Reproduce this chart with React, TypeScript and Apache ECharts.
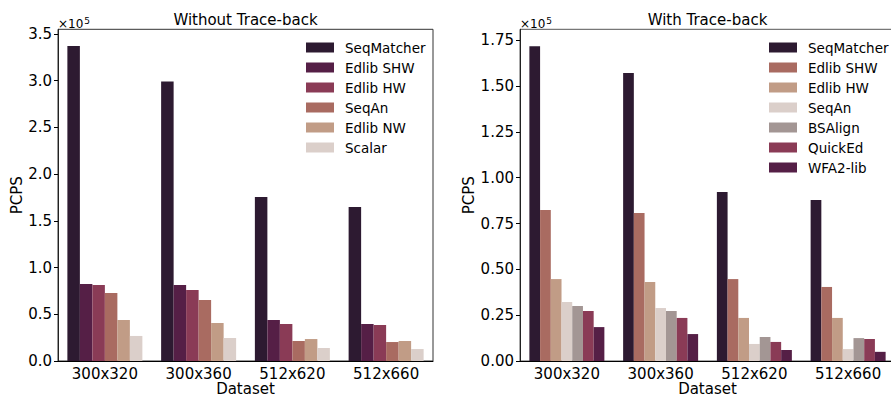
import React, { useEffect, useRef } from "react";
import * as echarts from "echarts";

// Datasets on the x axis
const categories = ["300x320", "300x360", "512x620", "512x660"];

// Pairs computed per second, without trace-back
const noTbNames = ["SeqMatcher", "Edlib SHW", "Edlib HW", "SeqAn", "Edlib NW", "Scalar"];
const noTbSeqMatcher = [337000, 299000, 175500, 164900];
const noTbEdlibSHW = [82400, 81300, 43900, 39600];
const noTbEdlibHW = [81300, 76000, 39600, 38500];
const noTbSeqAn = [72800, 65300, 21400, 20300];
const noTbEdlibNW = [43900, 40700, 23500, 21400];
const noTbScalar = [26800, 24600, 13900, 12800];

// Pairs computed per second, with trace-back
const tbNames = ["SeqMatcher", "Edlib SHW", "Edlib HW", "SeqAn", "BSAlign", "QuickEd", "WFA2-lib"];
const tbSeqMatcher = [171800, 157100, 92200, 87800];
const tbEdlibSHW = [82400, 80700, 44700, 40400];
const tbEdlibHW = [44700, 43100, 23500, 23500];
const tbSeqAn = [32200, 28900, 9300, 6500];
const tbBSAlign = [30000, 27300, 13100, 12500];
const tbQuickEd = [27300, 23500, 10400, 12000];
const tbWFA2 = [18500, 14700, 6000, 5000];

// Tick values
const leftTicks = [0, 50000, 100000, 150000, 200000, 250000, 300000, 350000];
const rightTicks = [0, 25000, 50000, 75000, 100000, 125000, 150000, 175000];

const noTbColors = ["#2d1a31", "#551f46", "#8a3b56", "#a96b61", "#c19c86", "#dbcfca"];
const tbColors = ["#2d1a31", "#a96b61", "#c19c86", "#dbcfca", "#a39694", "#8a3b56", "#551f46"];

const FONT = "DejaVu Sans";

export default function App() {
  const ref = useRef<HTMLDivElement>(null);

  useEffect(() => {
    if (!ref.current) return;
    const chart = echarts.init(ref.current, undefined, { renderer: "svg" });

    const noTbData = [noTbSeqMatcher, noTbEdlibSHW, noTbEdlibHW, noTbSeqAn, noTbEdlibNW, noTbScalar];
    const tbData = [tbSeqMatcher, tbEdlibSHW, tbEdlibHW, tbSeqAn, tbBSAlign, tbQuickEd, tbWFA2];

    const gridTop = 29.3;
    const gridH = 331.7;
    const gridW = 375;
    const leftX = 58;
    const rightX = 520;

    const makeX = (gridIndex: number) => ({
      type: "category",
      gridIndex,
      data: categories,
      axisLine: { lineStyle: { color: "#000", width: 1 } },
      axisTick: { alignWithLabel: true, length: 4, lineStyle: { color: "#000" } },
      axisLabel: { fontFamily: FONT, fontSize: 15, color: "#000", margin: 5 },
    });

    const makeY = (gridIndex: number, max: number, ticks: number[], digits: number) => ({
      type: "value",
      gridIndex,
      min: 0,
      max,
      name: "PCPS",
      nameLocation: "middle",
      nameGap: 34,
      nameTextStyle: { fontFamily: FONT, fontSize: 15, color: "#000" },
      splitLine: { show: false },
      axisLine: { show: true, lineStyle: { color: "#222", width: 1 } },
      axisTick: { show: true, length: 4, lineStyle: { color: "#000" }, customValues: ticks },
      axisLabel: {
        fontFamily: FONT,
        fontSize: 15,
        color: "#000",
        margin: 6,
        customValues: ticks,
        formatter: (v: number) => (v / 1e5).toFixed(digits),
      },
    });

    const series: any[] = [];
    noTbNames.forEach((name, i) => {
      series.push({
        type: "bar",
        name,
        xAxisIndex: 0,
        yAxisIndex: 0,
        data: noTbData[i],
        itemStyle: { color: noTbColors[i] },
        barGap: "0%",
        barCategoryGap: "20%",
      });
    });
    tbNames.forEach((name, i) => {
      series.push({
        type: "bar",
        name,
        xAxisIndex: 1,
        yAxisIndex: 1,
        data: tbData[i],
        itemStyle: { color: tbColors[i] },
        barGap: "0%",
        barCategoryGap: "20%",
      });
    });

    const makeLegend = (left: number, names: string[], colors: string[]) => ({
      orient: "vertical",
      left,
      top: 37.5,
      padding: 0,
      itemGap: 0,
      itemWidth: 28,
      itemHeight: 10,
      selectedMode: false,
      icon: "rect",
      textStyle: {
        fontFamily: FONT,
        fontSize: 13.5,
        color: "#000",
        lineHeight: 20,
        padding: [0, 0, 0, 6],
      },
      data: names.map((n, i) => ({ name: n, itemStyle: { color: colors[i] } })),
    });

    const centredText = (x: number, y: number, text: string) => ({
      type: "text",
      x,
      y,
      style: {
        text,
        font: `15px "${FONT}"`,
        fill: "#000",
        textAlign: "center",
        textVerticalAlign: "middle",
      },
    });

    // Scientific offset label "×10⁵" above each y axis
    const offsetText = (x: number) => ({
      type: "text",
      x,
      y: 16,
      style: {
        text: "{a|×10}{b|5}",
        fill: "#000",
        textAlign: "left",
        textVerticalAlign: "top",
        rich: {
          a: { fontFamily: FONT, fontSize: 12, lineHeight: 14, verticalAlign: "bottom" },
          b: { fontFamily: FONT, fontSize: 9, lineHeight: 14, verticalAlign: "top", padding: [0, 0, 6, 1] },
        },
      },
    });

    chart.setOption({
      animation: false,
      backgroundColor: "#fff",
      grid: [
        {
          left: leftX,
          top: gridTop,
          width: gridW,
          height: gridH,
          outerBoundsMode: "none",
          containLabel: false,
          show: true,
          borderColor: "#333",
          borderWidth: 1,
          backgroundColor: "transparent",
        },
        {
          left: rightX,
          top: gridTop,
          width: gridW,
          height: gridH,
          outerBoundsMode: "none",
          containLabel: false,
          show: true,
          borderColor: "#555",
          borderWidth: 1,
          backgroundColor: "transparent",
        },
      ],
      xAxis: [makeX(0), makeX(1)],
      yAxis: [makeY(0, 355000, leftTicks, 1), makeY(1, 181000, rightTicks, 2)],
      legend: [makeLegend(306, noTbNames, noTbColors), makeLegend(769, tbNames, tbColors)],
      graphic: [
        centredText(leftX + gridW / 2, 20, "Without Trace-back"),
        centredText(rightX + gridW / 2, 20, "With Trace-back"),
        centredText(leftX + gridW / 2, 389, "Dataset"),
        centredText(rightX + gridW / 2, 389, "Dataset"),
        offsetText(leftX),
        offsetText(rightX),
      ],
      series,
    });

    return () => chart.dispose();
  }, []);

  return (
    <div
      ref={ref}
      style={{ position: "fixed", left: 0, top: 0, width: 891, height: 398 }}
    />
  );
}
